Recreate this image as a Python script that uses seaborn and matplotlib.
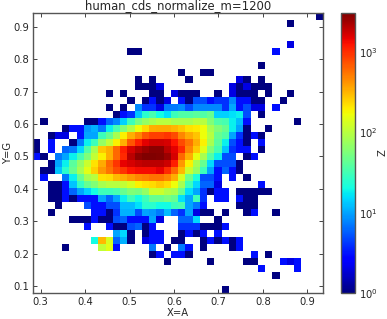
import numpy as np
import pandas as pd
import seaborn as sns
import matplotlib
matplotlib.use('Agg')
import matplotlib.pyplot as plt
from matplotlib.colors import LogNorm

# counts per bin, top row first, 40 x 40
counts = [
    [0,0,0,0,0,0,0,0,0,0, 0,0,0,0,0,0,0,0,0,0, 0,0,0,0,0,0,0,0,0,0, 0,0,0,0,0,0,0,0,0,1],
    [0,0,0,0,0,0,0,0,0,0, 0,0,0,0,0,0,0,0,0,0, 0,0,0,0,0,0,0,0,0,0, 0,0,0,0,0,1,0,0,0,0],
    [0,0,0,0,0,0,0,0,0,0, 0,0,0,0,0,0,0,0,0,0, 0,0,0,0,0,0,0,0,0,0, 0,0,0,0,0,0,0,0,0,0],
    [0,0,0,0,0,0,0,0,0,0, 0,0,0,0,0,0,0,0,0,0, 0,0,0,0,0,0,0,0,0,0, 0,0,0,0,0,0,0,0,0,0],
    [0,0,0,0,0,0,0,0,0,0, 0,0,0,0,0,0,0,0,0,0, 0,0,0,0,0,0,0,0,0,0, 0,0,0,0,0,2,0,0,0,0],
    [0,0,0,0,0,0,0,0,0,0, 0,0,0,1,1,0,0,0,0,0, 0,0,0,0,0,0,0,0,0,0, 0,0,0,3,0,0,0,0,0,0],
    [0,0,0,0,0,0,0,0,0,0, 0,0,0,0,0,0,0,0,0,0, 0,0,0,0,0,0,0,0,0,0, 0,0,0,0,0,0,0,0,0,0],
    [0,0,0,0,0,0,0,0,0,0, 0,0,0,0,0,0,0,0,0,0, 0,0,0,0,0,0,0,0,0,0, 0,1,0,0,0,0,0,0,0,0],
    [0,0,0,0,0,0,0,0,0,0, 0,0,0,0,0,0,0,0,0,0, 1,0,0,1,1,0,0,0,0,0, 0,0,0,0,0,0,0,0,0,0],
    [0,0,0,0,0,0,0,0,0,0, 0,0,0,0,1,0,1,0,0,0, 0,1,0,0,0,0,0,0,2,1, 0,1,0,0,0,0,0,0,0,0],
    [0,0,0,0,0,0,0,0,0,0, 0,0,0,0,1,1,1,2,0,0, 0,0,0,0,0,0,0,2,1,2, 1,1,1,0,0,0,0,0,0,0],
    [0,0,0,0,0,0,0,0,0,0, 1,0,1,0,0,0,1,1,0,2, 1,1,1,0,0,1,0,2,1,1, 1,0,1,0,0,1,0,0,0,0],
    [0,0,0,0,0,0,0,0,0,0, 0,0,0,1,0,1,3,1,2,0, 3,1,5,5,3,4,4,8,3,3, 1,1,0,0,1,0,0,0,0,0],
    [0,0,0,0,0,0,0,0,0,0, 1,0,1,0,8,4,4,2,7,7, 8,5,8,8,8,8,4,10,3,5, 2,2,0,3,0,0,0,0,0,0],
    [0,0,0,0,0,0,0,0,0,0, 0,1,3,4,13,25,33,20,16,30, 36,36,40,36,45,14,14,16,18,5, 0,1,0,0,0,0,0,0,0,0],
    [0,1,0,0,0,0,0,1,1,3, 6,8,14,30,52,70,85,100,100,85, 85,85,100,100,58,36,33,18,12,3, 0,0,0,0,0,0,1,0,0,0],
    [0,0,0,0,1,3,3,9,11,7, 18,33,58,92,170,230,340,350,350,310, 270,215,200,170,85,58,45,18,10,1, 0,0,1,0,0,0,0,0,0,0],
    [0,0,1,2,2,0,3,10,10,30, 45,85,190,340,470,700,850,850,950,770, 470,350,280,170,100,45,36,10,4,1, 3,1,0,0,0,0,0,0,0,0],
    [1,0,3,0,0,1,7,18,30,70, 110,190,340,700,1130,1530,1750,1750,1650,1250, 770,550,340,190,85,40,18,5,3,1, 0,3,0,0,0,0,0,0,0,0],
    [1,0,3,0,6,7,15,36,85,270, 340,600,1130,1650,2150,2500,2800,2800,2000,1530, 1020,470,270,150,58,33,13,4,3,3, 0,1,0,0,0,0,0,0,0,0],
    [3,1,0,7,10,18,33,58,110,190, 340,600,1020,2000,2700,3000,3000,2950,2500,1650, 600,340,160,85,36,18,5,5,0,1, 3,0,0,0,0,0,0,0,0,0],
    [0,0,1,10,18,40,70,120,215,350, 600,950,1450,1650,1900,2000,2000,2000,1750,1130, 400,190,85,45,15,5,5,5,1,0, 0,0,0,0,0,0,0,0,0,0],
    [0,1,1,13,25,45,85,150,250,400, 550,770,950,1250,1350,1350,1350,1450,1020,600, 300,120,70,30,10,3,6,3,1,0, 0,0,0,0,0,0,0,0,0,0],
    [0,3,0,0,7,18,45,85,100,215, 230,300,340,400,470,500,550,550,470,340, 135,48,22,5,5,3,0,3,0,1, 0,0,0,0,0,0,0,0,0,0],
    [0,0,1,1,3,13,27,45,58,85, 100,100,110,135,190,215,230,270,230,170, 85,30,15,6,6,2,0,0,0,0, 0,3,0,0,0,0,0,0,0,0],
    [0,0,1,1,3,6,10,14,20,30, 30,33,45,58,52,70,120,120,92,85, 45,16,10,4,1,3,3,0,1,1, 1,1,1,0,0,0,0,0,0,0],
    [0,0,1,1,3,1,3,3,3,10, 6,10,18,30,20,30,45,45,52,45, 16,10,30,4,0,3,3,0,3,1, 1,0,0,0,0,0,0,0,0,0],
    [0,0,0,1,0,0,0,5,3,3, 5,5,12,12,16,25,25,20,20,30, 33,10,7,3,0,0,0,0,1,1, 1,0,0,0,0,0,0,0,0,0],
    [0,0,1,0,0,0,0,0,3,3, 1,4,11,11,5,10,9,7,12,6, 4,10,2,1,1,0,1,0,0,1, 3,0,0,1,0,0,0,0,0,0],
    [0,0,0,0,0,1,1,1,3,1, 1,5,6,3,3,3,10,2,0,0, 6,6,15,0,0,1,0,0,0,0, 0,0,0,0,0,0,0,0,0,0],
    [0,0,0,0,0,0,0,3,0,0, 3,1,1,5,6,1,3,0,0,0, 4,4,4,1,1,1,3,0,0,0, 0,0,0,0,0,0,0,0,0,0],
    [0,0,0,0,0,0,0,0,0,0, 0,10,15,1,0,1,3,3,0,0, 1,3,1,3,0,3,0,0,0,0, 0,0,0,0,0,0,0,0,0,0],
    [0,0,0,0,0,0,0,0,20,300, 135,6,11,1,0,2,3,3,0,1, 1,0,0,1,3,1,3,1,3,0, 0,0,0,0,0,0,0,0,0,0],
    [0,0,0,0,1,0,0,0,0,110, 150,3,0,0,0,0,7,0,1,0, 7,3,0,1,0,0,0,1,3,0, 0,0,0,0,0,0,0,0,0,0],
    [0,0,0,0,0,0,0,0,0,0, 0,0,0,0,0,0,1,3,0,3, 3,1,0,0,0,0,0,0,0,0, 3,0,1,0,0,0,0,0,0,0],
    [0,0,0,0,0,0,0,0,0,0, 0,0,0,0,0,0,0,0,1,0, 0,0,0,0,1,0,0,0,0,1, 1,0,0,0,3,2,3,0,0,0],
    [0,0,0,0,0,0,0,0,0,0, 0,0,0,0,0,0,0,0,0,0, 0,0,0,0,0,0,0,0,0,0, 0,3,0,0,0,0,3,0,0,0],
    [0,0,0,0,0,0,0,0,0,0, 0,0,0,0,0,0,0,0,0,0, 0,0,0,0,0,0,0,0,0,0, 0,0,0,1,0,0,0,0,0,0],
    [0,0,0,0,0,0,0,0,0,0, 0,0,0,0,0,0,0,0,0,0, 0,0,0,0,0,0,0,0,0,0, 0,0,0,0,0,0,0,0,0,0],
    [0,0,0,0,0,0,0,0,0,0, 0,0,0,0,0,0,0,0,0,0, 0,0,0,0,0,0,1,0,0,0, 0,0,0,0,0,0,0,0,0,0],
]
x_ticks = [0.3, 0.4, 0.5, 0.6, 0.7, 0.8, 0.9]
y_ticks = [0.1, 0.2, 0.3, 0.4, 0.5, 0.6, 0.7, 0.8, 0.9]
x_range = (0.283, 0.935)
y_range = (0.078, 0.943)
z_range = (1, 3050)

df = pd.DataFrame(counts)

sns.set_style('white')
fig = plt.figure(figsize=(3.87, 3.19), dpi=100)
W, H = 387.0, 319.0
ax = fig.add_axes([33/W, 1 - 293/H, 290/W, 280/H])
cax = fig.add_axes([341/W, 1 - 293/H, 14/W, 280/H])

sns.heatmap(df, mask=df == 0, cmap='jet', norm=LogNorm(*z_range), ax=ax, cbar_ax=cax,
            xticklabels=False, yticklabels=False, linewidths=0)

# heatmap axes run in bin numbers, so convert the tick values
n_y, n_x = df.shape
ax.set_xticks([(v - x_range[0]) / (x_range[1] - x_range[0]) * n_x for v in x_ticks])
ax.set_xticklabels(['%.1f' % v for v in x_ticks], rotation=0)
ax.set_yticks([(y_range[1] - v) / (y_range[1] - y_range[0]) * n_y for v in y_ticks])
ax.set_yticklabels(['%.1f' % v for v in y_ticks], rotation=0)
ax.tick_params(direction='in', length=3, width=0.7, color='#444444', labelsize=7.2,
               top=True, right=True, bottom=True, left=True, pad=3)
ax.set_xlabel('X=A', fontsize=7.2, labelpad=0.5)
ax.set_ylabel('Y=G', fontsize=7.2)
ax.yaxis.set_label_coords(-0.068, 0.5)
ax.set_title('human_cds_normalize_m=1200', fontsize=8.4, pad=2.5)
for s in ax.spines.values():
    s.set_visible(True)
    s.set_color('#555555')
    s.set_linewidth(1)

cbar = ax.collections[0].colorbar
cbar.ax.minorticks_off()
cbar.ax.tick_params(direction='in', length=3, width=0.7, labelsize=7.2, pad=3, right=True)
cbar.set_label('Z', fontsize=7.2, labelpad=0)
cbar.outline.set_visible(True)
cbar.outline.set_edgecolor('#555555')
cbar.outline.set_linewidth(1)

fig.savefig('out.png', dpi=100)
